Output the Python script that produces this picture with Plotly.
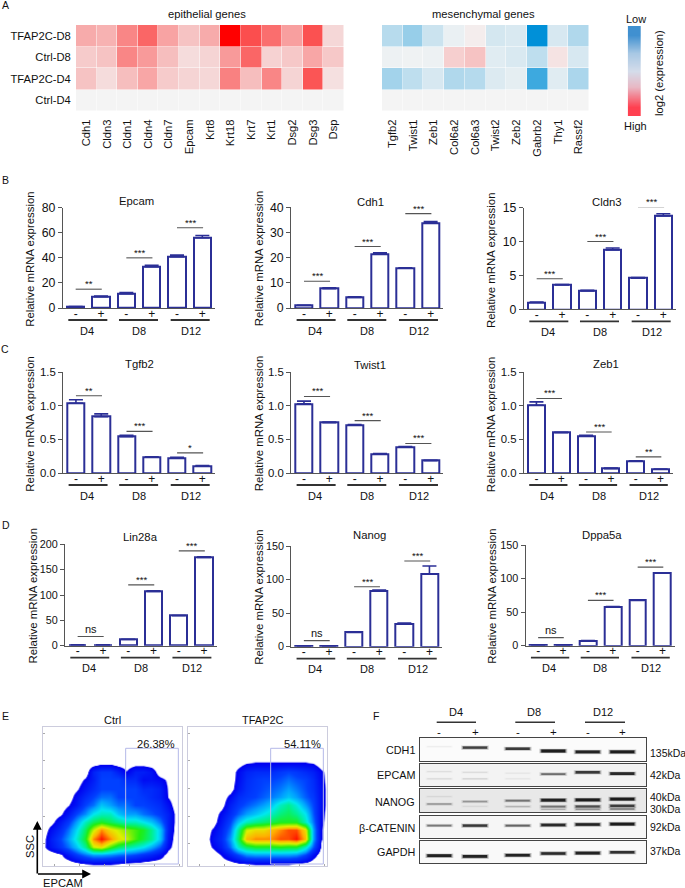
import plotly.graph_objects as go

W, H = 685, 888
FONT = "Liberation Sans"
NAVY = "#2b2f96"
AXC = "#555555"

# ---------- panel A data ----------
ROWS = ["TFAP2C-D8", "Ctrl-D8", "TFAP2C-D4", "Ctrl-D4"]
EPI_GENES = ["Cdh1", "Cldn3", "Cldn1", "Cldn4", "Cldn7", "Epcam", "Krt8", "Krt18", "Krt7", "Krt1", "Dsg2", "Dsg3", "Dsp"]
EPI_TF_D8 = [.30, .27, .45, .58, .33, .20, .30, 1.0, .68, .55, .35, .67, .12]
EPI_CT_D8 = [.17, .20, .45, .37, .22, .10, .13, .37, .58, .14, .18, .32, .18]
EPI_TF_D4 = [.20, .10, .22, .32, .17, .13, .12, .47, .22, .45, .13, .65, .08]
EPI_CT_D4 = [0] * 13
MES_GENES = ["Tgfb2", "Twist1", "Zeb1", "Col6a2", "Col6a3", "Twist2", "Zeb2", "Gabrb2", "Thy1", "Rassf2"]
MES_TF_D8 = [-.25, -.38, -.17, -.04, .03, -.13, -.11, -1.0, -.12, -.28]
MES_CT_D8 = [-.03, -.02, -.03, .15, .20, -.08, -.11, -.22, .07, -.12]
MES_TF_D4 = [-.33, -.22, -.12, -.28, -.26, -.10, -.06, -.75, -.08, -.30]
MES_CT_D4 = [0] * 10
LEGEND_STOPS = [-1, -.5, 0, .5, 1]

# ---------- panels B-D data ----------
TICKS_PM = ["-", "+", "-", "+", "-", "+"]
DAYS = ["D4", "D8", "D12"]
EPCAM = [1, 9, 11.5, 33, 41, 56]
EPCAM_E = [.2, .5, .8, 1, 1.2, 1.8]
EPCAM_S = [15, 40, 64]
CDH1 = [1.0, 7.7, 4.2, 21.5, 15.8, 33.8]
CDH1_E = [.1, .3, .2, .4, .2, .5]
CDH1_S = [10.6, 24.4, 37.5]
CLDN3 = [1.03, 3.6, 2.7, 8.75, 4.6, 13.8]
CLDN3_E = [.05, .05, .1, .3, .08, .3]
CLDN3_S = [4.5, 10, 15.05]
TGFB2 = [1.04, .84, .54, .234, .224, .10]
TGFB2_E = [.05, .04, .02, .006, .01, .01]
TGFB2_S = [1.15, .62, .30]
TWIST1 = [1.03, .75, .715, .285, .39, .185]
TWIST1_E = [.04, .01, .005, .005, .005, .005]
TWIST1_S = [1.14, .78, .44]
ZEB1 = [1.01, .60, .55, .065, .18, .055]
ZEB1_E = [.05, .005, .01, .01, .003, .005]
ZEB1_S = [1.11, .61, .24]
LIN28A = [1.3, 1.3, 12.5, 107, 59, 174]
LIN28A_E = [.3, .3, .3, 1.5, .5, 1.2]
LIN28A_S = [18, 120, 187]
NANOG = [1, 1, 21.4, 82.5, 33.8, 108.3]
NANOG_E = [.3, .3, .5, 2, 1.5, 12]
NANOG_S = [9, 89.4, 127.7]
DPPA5A = [1.2, 1.2, 7.5, 58, 67.5, 108]
DPPA5A_E = [.2, .2, .3, .5, .3, .5]
DPPA5A_S = [12, 67.5, 117]

# ---------- panel E data ----------
FLOW_ROWS = [240, 265, 290, 315, 340, 365, 390, 415, 440, 465, 490, 515, 540, 565, 590]
CTRL_COLS = [130, 155, 180, 205, 230, 255, 280, 305, 330, 355, 380, 405, 430, 455, 480, 505, 530, 555]
CTRL_DENSITY = [
    [0] * 18,
    [0, 0, 0, 0, 0, 0, 0, .2, .2, 0, 0, .1, .1, 0, 0, 0, 0, 0],
    [0, 0, 0, 0, 0, 0, 1.3, 1.8, 1.8, 1.2, .5, 1.2, 1.2, .9, 0, 0, 0, 0],
    [0, 0, 0, 0, 0, .6, 1.2, 2, 2, 2, 1.5, 1.5, .8, .9, .7, .3, 0, 0],
    [0, 0, 0, 0, .3, 1, 1.5, 2, 2, 2, 2, 2, 1.5, 1.5, 1.2, .35, 0, 0],
    [0, 0, 0, 0, .8, 1.5, 2, 2.5, 2.5, 2, 2, 2, 1.8, 1.5, 1.2, .4, 0, 0],
    [0, 0, 0, .4, 1, 2, 2.5, 3.5, 3, 2.5, 2.5, 2, 2, 1.8, 1.5, .8, 0, 0],
    [0, 0, .3, 1, 2, 2.8, 4, 4.5, 4.5, 3.5, 3, 3, 2.5, 2.2, 1.8, 1.2, .2, 0],
    [0, .2, 1, 1.8, 3, 4.5, 5.5, 6, 5.5, 5, 4.5, 4.5, 4, 3.5, 2.5, 1.2, .2, 0],
    [0, .8, 1.5, 2.5, 3.8, 5.5, 7.5, 9, 8, 7.5, 7, 6.5, 6, 5, 3.5, 1.2, .1, 0],
    [.2, 1.2, 2, 3, 4.3, 6, 9, 10, 9, 8, 7.5, 6.5, 5.8, 5, 3.5, 1, 0, 0],
    [.3, 1, 1.7, 2.5, 3.5, 5, 7.5, 8, 6.5, 5.5, 5, 4.5, 4, 3.2, 2.2, .7, 0, 0],
    [0, 0, .3, 1, 1.8, 2.5, 3, 3, 2.8, 2.5, 2.3, 2, 1.6, 1.3, .8, .1, 0, 0],
    [0, 0, 0, 0, .2, .45, .5, .5, .5, .45, .3, .2, .1, 0, 0, 0, 0, 0],
    [0] * 18,
]
TF_COLS = [565, 590, 615, 640, 665, 690, 715, 740, 765, 790, 815, 840, 865, 890, 915, 940, 965, 990]
TF_DENSITY = [
    [0] * 18,
    [0, 0, 0, 0, 0, 0, .1, .4, .5, .5, .5, .5, .5, .5, .5, .4, 0, 0],
    [0, 0, 0, 0, 0, 0, .7, 1.3, 1.5, 1.5, 1.5, 1.8, 2, 1.8, 1.5, 1.2, .6, 0],
    [0, 0, 0, 0, 0, 0, .8, 1.5, 1.8, 2, 2, 2.2, 2.5, 2.2, 2, 1.5, .7, 0],
    [0, 0, 0, 0, 0, .1, 1, 1.6, 1.9, 2.1, 2.3, 2.6, 3, 2.6, 2.1, 1.6, .8, 0],
    [0, 0, 0, 0, 0, .7, 1.5, 1.8, 2, 2.3, 2.6, 3, 3.5, 3, 2.3, 1.8, .8, 0],
    [0, 0, 0, 0, .1, 1.2, 1.8, 2.2, 2.6, 3, 3.5, 4.5, 5, 4.2, 3, 2, .8, 0],
    [0, 0, 0, 0, .7, 1.5, 2.3, 3, 3.5, 4, 4.5, 5.2, 5.5, 5, 4, 2.2, .7, 0],
    [0, 0, 0, .1, 1, 2, 3.5, 4.5, 5, 5.3, 5.6, 6, 6, 6, 4.5, 2.5, .6, 0],
    [0, 0, 0, .6, 1.3, 2.5, 5, 7.5, 8, 8, 8.5, 9, 9.5, 9.5, 8, 3, .5, 0],
    [0, 0, 0, .9, 1.5, 3, 5.5, 8.5, 9, 9, 9, 9.5, 9.5, 10, 8.5, 3, .5, 0],
    [0, 0, 0, .6, 1.2, 2.5, 4.5, 5.5, 6, 6, 6, 6.2, 6, 6, 4.5, 2.2, .3, 0],
    [0, 0, 0, 0, .5, 1.2, 2, 2.8, 3, 3, 3, 3, 3, 2.8, 2, .8, 0, 0],
    [0, 0, 0, 0, 0, .1, .3, .45, .5, .5, .5, .5, .5, .4, .2, 0, 0, 0],
    [0] * 18,
]
CTRL_PCT = "26.38%"
TF_PCT = "54.11%"

# ---------- panel F data (band darkness per lane, and migration height in blot) ----------
BLOT_NAMES = ["CDH1", "EPCAM", "NANOG", "β-CATENIN", "GAPDH"]
CDH1_LV = [.05, .75, .8, 1, .95, 1]
CDH1_HT = [.63, .59, .54, .44, .40, .40]
EPCAM_LV = [.07, .08, .05, .5, .8, .9]
EPCAM_HT = [.65, .62, .58, .54, .62, .56]
EPCAM_LOW_LV = [.08, .10, .05, 0, 0, 0]
EPCAM_LOW_HT = [.33, .33, .33, .33, .33, .33]
NANOG_LV = [.3, .3, .45, .95, 1, 1]
NANOG_HT = [.35, .46, .50, .52, .53, .57]
NANOG_LOW_LV = [.06, .06, .18, .45, .65, .75]
NANOG_LOW_HT = [.68, .25, .24, .24, .24, .27]
NANOG_MIN_LV = [0, 0, 0, .2, .3, .4]
NANOG_MIN_HT = [.12, .12, .12, .12, .12, .13]
CTNN_LV = [.45, .8, .55, .9, .95, 1]
CTNN_HT = [.55, .55, .55, .58, .60, .62]
GAPDH_LV = [.95, .95, .95, .9, .95, .85]
GAPDH_HT = [.34, .31, .36, .44, .46, .49]
BLOT_BG = ["#fbfbfb", "#f3f3f3", "#e8e8e8", "#f6f6f6", "#f9f9f9"]
KDA = ["135kDa", "42kDa", "40kDa", "30kDa", "92kDa", "37kDa"]

fig = go.Figure()
layout = {}
shapes = []
annots = []
counter = [0]


def new_axes(x0, x1, ytop, ybot):
    counter[0] += 1
    n = counter[0]
    s = "" if n == 1 else str(n)
    layout[f"xaxis{s}"] = dict(domain=[x0 / W, x1 / W], anchor=f"y{s}")
    layout[f"yaxis{s}"] = dict(domain=[1 - ybot / H, 1 - ytop / H], anchor=f"x{s}")
    return f"x{s}", f"y{s}", f"xaxis{s}", f"yaxis{s}"


def text(s, x, y, size=11.2, xa="center", ya="middle", angle=0, xref="paper", yshift=0, color="#111"):
    xx = x / W if xref == "paper" else x
    annots.append(dict(text=s, x=xx, y=1 - y / H, xref=xref, yref="paper", showarrow=False, xanchor=xa, yanchor=ya,
                       textangle=angle, yshift=yshift, font=dict(size=size, family=FONT, color=color)))


def px_line(x0, y0, x1, y1, color="#333", width=1.5):
    shapes.append(dict(type="line", xref="paper", yref="paper", x0=x0 / W, x1=x1 / W, y0=1 - y0 / H, y1=1 - y1 / H,
                       line=dict(color=color, width=width), layer="above"))


# ---------- A ----------
HEAT_SCALE = [[0, "#0090d8"], [.5, "#f4f4f4"], [1, "#ff0000"]]


def heat(x0, x1, genes, rows, show_rows):
    xn, yn, xk, yk = new_axes(x0, x1, 25, 111)
    fig.add_trace(go.Heatmap(z=rows, x=genes, y=ROWS, xaxis=xn, yaxis=yn, zmin=-1, zmax=1, colorscale=HEAT_SCALE,
                             showscale=False, xgap=.5, ygap=.5))
    layout[xk].update(tickangle=-90, ticklen=0, ticklabelstandoff=3, showgrid=False, zeroline=False, showline=False,
                      tickfont=dict(size=11.2, family=FONT, color="#111"), tickmode="linear", dtick=1)
    layout[yk].update(autorange="reversed", ticklen=0, showgrid=False, zeroline=False, showline=False,
                      showticklabels=show_rows, ticklabelstandoff=2,
                      tickfont=dict(size=11.2, family=FONT, color="#111"))


heat(76, 344, EPI_GENES, [EPI_TF_D8, EPI_CT_D8, EPI_TF_D4, EPI_CT_D4], True)
heat(382, 589, MES_GENES, [MES_TF_D8, MES_CT_D8, MES_TF_D4, MES_CT_D4], False)
text("epithelial genes", 206.7, 13.7)
text("mesenchymal genes", 483, 13.7)

xn, yn, xk, yk = new_axes(627.7, 641, 26, 116)
fig.add_trace(go.Heatmap(z=[[v] for v in LEGEND_STOPS], y=LEGEND_STOPS, xaxis=xn, yaxis=yn, showscale=False, zsmooth="best",
                         colorscale=[[0, "#4090d0"], [.25, "#a8c8e4"], [.5, "#d4dcea"], [.72, "#e8b8c4"], [1, "#ff4050"]],
                         zmin=-1, zmax=1))
layout[xk].update(visible=False)
layout[yk].update(visible=False, autorange="reversed")
text("Low", 636, 19, 11)
text("High", 635, 126, 11)
text("log2 (expression)", 659, 73, 11.2, angle=-90)

# ---------- B, C, D ----------
TITLES = ["Epcam", "Cdh1", "Cldn3", "Tgfb2", "Twist1", "Zeb1", "Lin28a", "Nanog", "Dppa5a"]
SERIES = [EPCAM, CDH1, CLDN3, TGFB2, TWIST1, ZEB1, LIN28A, NANOG, DPPA5A]
ERRORS = [EPCAM_E, CDH1_E, CLDN3_E, TGFB2_E, TWIST1_E, ZEB1_E, LIN28A_E, NANOG_E, DPPA5A_E]
SIGS = [EPCAM_S, CDH1_S, CLDN3_S, TGFB2_S, TWIST1_S, ZEB1_S, LIN28A_S, NANOG_S, DPPA5A_S]
STARS = [["**", "***", "***"], ["***"] * 3, ["***"] * 3,
         ["**", "***", "*"], ["***"] * 3, ["***", "***", "**"],
         ["ns", "***", "***"], ["ns", "***", "***"], ["ns", "***", "***"]]
YMAX = [80, 40, 15, 1.5, 1.5, 1.5, 200, 150, 150]
DTICK = [20, 10, 5, .5, .5, .5, 50, 50, 50]
TICK_SIZE = [12.3, 12.3, 12.3, 11.4, 11.4, 11.4, 10.8, 10.8, 10.8]
# left, right, y of zero, y of top, title x, title y, y-title x
PLACE = [
    (63, 215, 308, 207.7, 136, 200.7, 30.5),
    (291.3, 443.3, 308, 207.3, 370.7, 201.7, 259),
    (524, 676, 309.3, 207.7, 607, 202, 491),
    (63.3, 215, 473, 372.3, 139, 364, 30.5),
    (291.3, 443.3, 473, 372.3, 370, 365, 259),
    (524, 673, 473, 372.3, 606, 364, 491),
    (65, 216.7, 645.7, 544.3, 140.7, 536.7, 32),
    (291.3, 442, 646.7, 546, 369, 535, 259),
    (525.7, 675, 645.7, 545, 602, 535, 492),
]
SPANS = [(-.29, 1.25), (1.71, 3.25), (3.75, 5.29)]
LABEL_X = [.43, 2.5, 4.54]
SIG_SPANS = [(0, 1), (2, 3), (4, 5)]

for i, title in enumerate(TITLES):
    L, R, Y0, YT, TX, TY, YX = PLACE[i]
    xn, yn, xk, yk = new_axes(L, R, YT, Y0)
    fig.add_trace(go.Bar(x=list(range(6)), y=SERIES[i], width=.68, xaxis=xn, yaxis=yn, showlegend=False,
                         marker=dict(color="white", line=dict(color=NAVY, width=2)),
                         error_y=dict(type="data", symmetric=False, array=ERRORS[i], arrayminus=[0] * 6,
                                      color=NAVY, thickness=1.6, width=7)))
    layout[xk].update(range=[-.5, 5.5], tickmode="array", tickvals=list(range(6)), ticktext=TICKS_PM, ticklen=0,
                      ticks="", ticklabelstandoff=-6, showgrid=False, zeroline=False, showline=True, linecolor=AXC,
                      linewidth=1.3, tickfont=dict(size=12, family=FONT, color="#111"))
    layout[yk].update(range=[0, YMAX[i]], dtick=DTICK[i], tick0=0, ticks="outside", ticklen=4, tickcolor=AXC, tickwidth=1.2,
                      showgrid=False, zeroline=False, showline=True, linecolor=AXC, linewidth=1.3,
                      tickformat=".1f" if YMAX[i] == 1.5 else "d",
                      tickfont=dict(size=TICK_SIZE[i], family=FONT, color="#111"))
    text(title, TX, TY, 11.3)
    text("Relative mRNA expression", YX, (Y0 + YT) / 2 + 1.5, 11.4, angle=-90)
    for (a, b), lx, day in zip(SPANS, LABEL_X, DAYS):
        shapes.append(dict(type="line", xref=xn, x0=a, x1=b, yref="paper", y0=1 - (Y0 + 12) / H, y1=1 - (Y0 + 12) / H,
                           line=dict(color="#333", width=1.8)))
        text(day, lx, Y0 + 22.5, 11, xref=xn)
    for (a, b), h, star in zip(SIG_SPANS, SIGS[i], STARS[i]):
        shapes.append(dict(type="line", xref=xn, yref=yn, x0=a, x1=b + .03, y0=h, y1=h, line=dict(color="#555", width=1.1)))
        hp = Y0 - h / YMAX[i] * (Y0 - YT)
        if star == "ns":
            text(star, (a + b) / 2 + .02, hp, 11, xref=xn, ya="bottom", yshift=0)
        else:
            text(star, (a + b) / 2 + .02, hp, 9.5, xref=xn, ya="bottom", yshift=-2)

# ---------- E ----------
FLOW_SCALE = [[0, "#ffffff"], [.04, "#ffffff"], [.05, "#0000f0"], [.2, "#0040ff"], [.3, "#00a0ff"], [.4, "#00e8f0"],
              [.5, "#00f090"], [.62, "#20ee10"], [.77, "#e0f000"], [.87, "#ffb000"], [1, "#ff1000"]]
FLOW_FRAME = "#ccccdd"
GATE = "#b4b8e8"
FLOW_TICKS_Y = [175, 258, 341, 424, 507]


def flow(x0, x1, cols, dens, name, pct, gate_l, gate_r, pct_x, title_x, ticks_x):
    xn, yn, xk, yk = new_axes(x0, x1, 727.3, 866)
    fig.add_trace(go.Heatmap(z=dens, x=cols, y=FLOW_ROWS, xaxis=xn, yaxis=yn, zmin=0, zmax=10, colorscale=FLOW_SCALE,
                             zsmooth="best", showscale=False))
    base = dict(showgrid=False, zeroline=False, showline=True, mirror=True, linecolor=FLOW_FRAME, linewidth=1.2,
                showticklabels=False, ticks="inside", ticklen=2, tickcolor="#aaaaaa", tickwidth=.6)
    layout[xk].update(range=[x0 * 3, x1 * 3], tickmode="array", tickvals=ticks_x, **base)
    layout[yk].update(range=[573, 157], tickmode="array", tickvals=FLOW_TICKS_Y, **base)
    shapes.append(dict(type="rect", xref=xn, yref=yn, x0=gate_l, x1=gate_r, y0=220, y1=567,
                       line=dict(color=GATE, width=1), fillcolor="rgba(0,0,0,0)"))
    text(name, title_x, 719.5, 11)
    text(pct, pct_x, 743.5, 11.1)


flow(43.3, 181.7, CTRL_COLS, CTRL_DENSITY, "Ctrl", CTRL_PCT, 377, 535, 155.5, 113, [163, 238, 313, 388, 463, 538])
flow(188.3, 326.7, TF_COLS, TF_DENSITY, "TFAP2C", TF_PCT, 812, 970, 302.5, 262.5, [598, 673, 748, 823, 898, 973])

annots.append(dict(x=37.3 / W, y=1 - 821 / H, ax=0, ay=54, xref="paper", yref="paper", axref="pixel", ayref="pixel",
                   text="", showarrow=True, arrowhead=2, arrowsize=1.1, arrowwidth=1.6, arrowcolor="#000"))
annots.append(dict(x=91 / W, y=1 - 874 / H, ax=-54.5, ay=0, xref="paper", yref="paper", axref="pixel", ayref="pixel",
                   text="", showarrow=True, arrowhead=2, arrowsize=1.1, arrowwidth=1.6, arrowcolor="#000"))
text("SSC", 30, 847, 11.2, angle=-90)
text("EPCAM", 62.7, 883, 11.2)

# ---------- F ----------
LANES = [439.3, 475, 517.7, 553.3, 587.7, 622.3]
BLOT_Y = [(738.3, 761), (763.7, 786.3), (789.3, 812), (815.7, 837.7), (841, 863.3)]
BLOT_BANDS = [
    [(CDH1_LV, CDH1_HT)],
    [(EPCAM_LV, EPCAM_HT), (EPCAM_LOW_LV, EPCAM_LOW_HT)],
    [(NANOG_LV, NANOG_HT), (NANOG_LOW_LV, NANOG_LOW_HT), (NANOG_MIN_LV, NANOG_MIN_HT)],
    [(CTNN_LV, CTNN_HT)],
    [(GAPDH_LV, GAPDH_HT)],
]
for name, (yt, yb), bands, bg in zip(BLOT_NAMES, BLOT_Y, BLOT_BANDS, BLOT_BG):
    xn, yn, xk, yk = new_axes(420, 646, yt, yb)
    for levels, heights in bands:
        for lane, lv, ht in zip(LANES, levels, heights):
            if lv <= 0:
                continue
            thick = .8 + 2 * lv
            for half, extra, alpha in [(14, 1.8, .18), (13, .8, .35), (12, 0, .85)]:
                fig.add_trace(go.Scatter(x=[lane - half, lane + half], y=[ht, ht], xaxis=xn, yaxis=yn, mode="lines",
                                         showlegend=False, hoverinfo="skip",
                                         line=dict(color=f"rgba(10,10,10,{alpha * lv:.3f})", width=thick + extra)))
    frame = dict(showgrid=False, zeroline=False, showline=True, mirror=True, linecolor="#444444", linewidth=1.3,
                 showticklabels=False, ticks="")
    layout[xk].update(range=[420, 646], **frame)
    layout[yk].update(range=[0, 1], **frame)
    shapes.append(dict(type="rect", xref=xn + " domain", yref=yn + " domain", x0=0, x1=1, y0=0, y1=1, layer="below",
                       fillcolor=bg, line=dict(width=0)))

for name, y in zip(BLOT_NAMES, [750, 775, 802, 828, 852]):
    text(name, 417, y, 10.8, xa="right")
for name, y in zip(KDA, [752.7, 775, 796.7, 809, 826.7, 851]):
    text(name, 647.5, y, 10.5, xa="left")
for day, x in zip(DAYS, [456.3, 533.7, 603.3]):
    text(day, x, 712, 11)
for a, b in [(436.7, 476), (515.3, 555), (585, 625)]:
    px_line(a, 722.3, b, 722.3, "#333", 1.6)
for sign, x in zip(TICKS_PM, LANES):
    text(sign, x, 731.5, 11.5)

# ---------- panel letters ----------
for letter, x, y in [("A", 5, 5), ("B", 5, 180), ("C", 5, 349), ("D", 6, 525), ("E", 5, 716), ("F", 376, 716)]:
    text(letter, x, y, 10.5)

fig.update_layout(template="none", width=W, height=H, margin=dict(l=0, r=0, t=0, b=0, pad=0), paper_bgcolor="white",
                  plot_bgcolor="white", showlegend=False, shapes=shapes, annotations=annots, font=dict(family=FONT),
                  bargap=0, **layout)
fig.write_html("out.html", post_script="document.body.style.margin='0';", config=dict(displayModeBar=False))
